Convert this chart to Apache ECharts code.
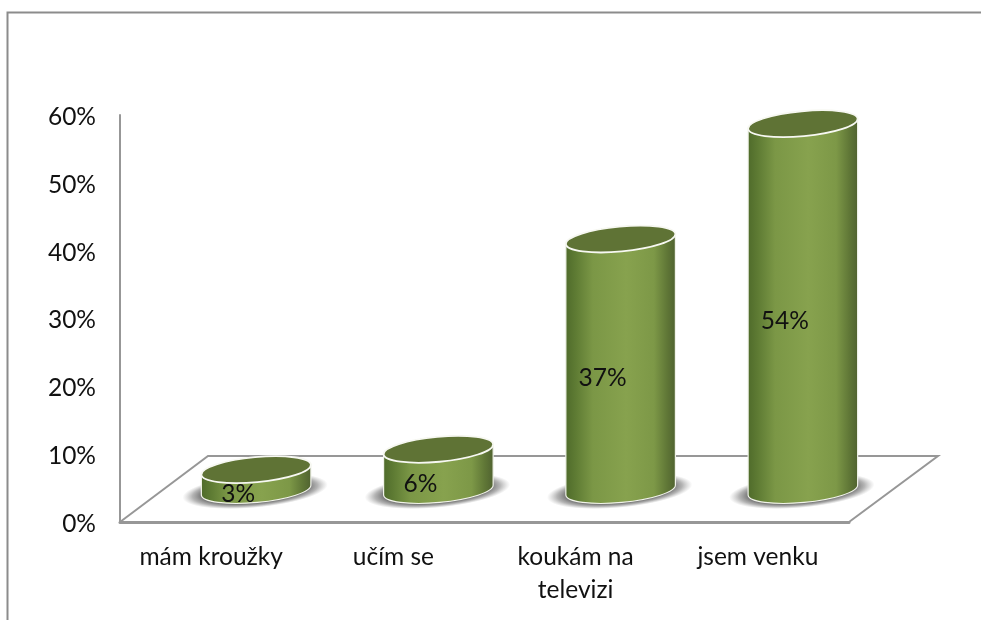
<!DOCTYPE html>
<html>
<head>
<meta charset="utf-8">
<style>html,body{margin:0;padding:0;background:#fff}#c{width:981px;height:620px}</style>
<script src="https://cdn.jsdelivr.net/npm/echarts@6/dist/echarts.min.js"></script>
</head>
<body>
<div id="c"></div>
<script>
const categories = ['mám kroužky', 'učím se', 'koukám na\ntelevizi', 'jsem venku'];
const values = [3, 6, 37, 54];
const axisMax = 60;
const axisStep = 10;

const FONT = 'Lato';
const FS = 24.5;
const LINE = '#979797';
const dx = 45, dy = 32, A = 55, B = 12.5, TILT = 5.3;
const sinT = Math.sin(TILT * Math.PI / 180), cosT = Math.cos(TILT * Math.PI / 180);

function renderFloor(params, api) {
  const r = params.coordSys;
  const L = r.x, Bm = r.y + r.height, R = r.x + r.width;
  return {
    type: 'polyline',
    shape: { points: [[L, Bm], [L + 88, Bm - 66], [R + 89, Bm - 66], [R, Bm]] },
    style: { fill: null, stroke: LINE, lineWidth: 2 },
    silent: true
  };
}

function renderCyl(params, api) {
  const idx = api.value(0), v = api.value(1);
  const base = api.coord([idx, 0]);
  const top = api.coord([idx, v]);
  const cx = base[0] + dx, by = base[1] - dy, ty = top[1] - dy;
  const ex = A * cosT, ey = A * sinT;
  const body = `M${cx - ex} ${ty + ey}L${cx - ex} ${by + ey}A${A} ${B} ${-TILT} 0 0 ${cx + ex} ${by - ey}L${cx + ex} ${ty - ey}Z`;
  const grad = {
    type: 'linear', x: 0, y: 0, x2: 1, y2: 0,
    colorStops: [
      { offset: 0, color: '#4e6a2a' }, { offset: 0.1, color: '#5f7c34' },
      { offset: 0.25, color: '#7b9746' }, { offset: 0.55, color: '#87a24e' },
      { offset: 0.8, color: '#7d9847' }, { offset: 0.92, color: '#5f7636' },
      { offset: 1, color: '#4f6130' }
    ]
  };
  const shadow = {
    type: 'radial', x: 0.5, y: 0.5, r: 0.5,
    colorStops: [
      { offset: 0, color: 'rgba(110,110,110,1)' }, { offset: 0.72, color: 'rgba(110,110,110,1)' },
      { offset: 0.86, color: 'rgba(130,130,130,0.6)' }, { offset: 1, color: 'rgba(160,160,160,0)' }
    ]
  };
  return {
    type: 'group',
    children: [
      { type: 'circle', x: cx - 1, y: by + 1, rotation: TILT * Math.PI / 180, scaleX: 1, scaleY: 0.23,
        shape: { cx: 0, cy: 0, r: 73 }, style: { fill: shadow } },
      { type: 'path', shape: { pathData: body }, style: { fill: grad, stroke: '#f1f3ea', lineWidth: 1.2 } },
      { type: 'ellipse', x: cx, y: ty, rotation: TILT * Math.PI / 180,
        shape: { cx: 0, cy: 0, rx: A, ry: B }, style: { fill: '#5f7335', stroke: '#f7f8f2', lineWidth: 1.8 } },
      { type: 'text', x: cx - 18, y: api.coord([idx, v / 2])[1] - 18,
        style: { text: v + '%', fill: '#111', font: FS + 'px ' + FONT, align: 'center', verticalAlign: 'middle' } }
    ]
  };
}

const chart = echarts.init(document.getElementById('c'));
chart.setOption({
  animation: false,
  backgroundColor: '#fff',
  graphic: [{
    type: 'polyline', silent: true,
    shape: { points: [[7.5, 620], [7.5, 12.5], [981, 12.5]] },
    style: { fill: null, stroke: '#8c8c8c', lineWidth: 2 }
  }],
  grid: { left: 120, top: 115, width: 729, height: 407 },
  xAxis: {
    type: 'category', data: categories,
    axisLine: { show: true, lineStyle: { color: LINE, width: 3 } },
    axisTick: { show: false },
    axisLabel: { color: '#111', fontFamily: FONT, fontSize: FS, lineHeight: 33, margin: 19, interval: 0 }
  },
  yAxis: {
    type: 'value', min: 0, max: axisMax, interval: axisStep,
    splitLine: { show: false },
    axisLine: { show: true, lineStyle: { color: LINE, width: 2 } },
    axisTick: { show: false },
    axisLabel: { margin: 24, formatter: '{t|{value}%}',
      rich: { t: { color: '#111', fontFamily: FONT, fontSize: FS, padding: [4, 0, 0, 0] } } }
  },
  series: [
    { type: 'custom', renderItem: renderFloor, data: [0], z: 1, silent: true },
    { type: 'custom', renderItem: renderCyl, z: 3, silent: true, clip: false,
      encode: { x: 0, y: 1 },
      data: values.map((v, i) => [i, v]) }
  ]
});
</script>
</body>
</html>
